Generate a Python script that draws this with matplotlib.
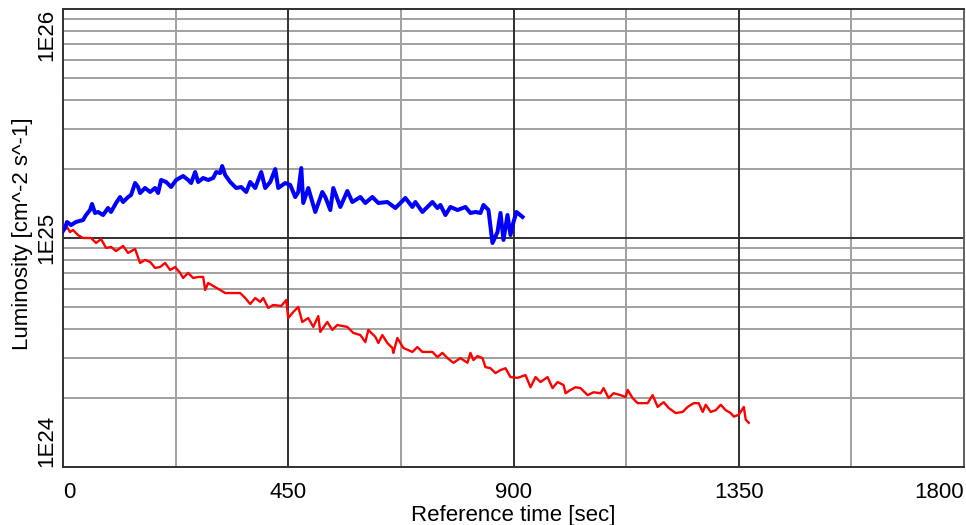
import numpy as np
import matplotlib.pyplot as plt
from matplotlib.ticker import FixedLocator, NullFormatter

plt.rcParams['font.family'] = ['Liberation Sans', 'DejaVu Sans']

# blue series: time [sec], luminosity [1e25 cm^-2 s^-1]
blue_t = [0, 4, 8, 16, 26, 40, 46, 54, 58, 64, 70, 80, 90, 96, 106, 114, 120,
          130, 136, 144, 150, 154, 164, 174, 184, 190, 196, 206, 216, 226, 240,
          250, 256, 264, 270, 280, 290, 300, 306, 314, 318, 324, 334, 346, 356,
          366, 374, 384, 390, 396, 404, 414, 424, 430, 444, 454, 464, 470, 476,
          480, 490, 504, 518, 524, 534, 540, 554, 568, 578, 594, 604, 618, 630,
          648, 664, 684, 698, 704, 718, 738, 748, 754, 764, 774, 788, 804, 814,
          824, 834, 840, 850, 858, 868, 874, 880, 888, 894, 900, 906, 918]
blue_lum = [1.073, 1.106, 1.175, 1.139, 1.175, 1.198, 1.260, 1.325, 1.408, 1.286,
            1.299, 1.260, 1.352, 1.299, 1.422, 1.510, 1.436, 1.510, 1.541, 1.738,
            1.670, 1.572, 1.653, 1.588, 1.653, 1.572, 1.792, 1.756, 1.670, 1.792,
            1.865, 1.792, 1.738, 1.941, 1.756, 1.828, 1.792, 1.828, 1.941, 1.922,
            2.062, 1.884, 1.756, 1.653, 1.670, 1.588, 1.756, 1.653, 1.792, 1.941,
            1.653, 1.756, 2.000, 1.653, 1.738, 1.704, 1.510, 1.588, 2.021, 1.422,
            1.653, 1.299, 1.588, 1.510, 1.325, 1.653, 1.366, 1.604, 1.436, 1.510,
            1.422, 1.510, 1.422, 1.436, 1.352, 1.495, 1.366, 1.436, 1.299, 1.436,
            1.352, 1.394, 1.260, 1.366, 1.325, 1.366, 1.286, 1.299, 1.286, 1.394,
            1.325, 0.951, 1.062, 1.286, 0.981, 1.260, 1.030, 1.175, 1.299, 1.236]

# red series
red_t = [0, 8, 14, 20, 30, 40, 56, 66, 76, 86, 96, 106, 120, 130, 144, 154, 164,
         174, 184, 194, 204, 214, 224, 234, 240, 250, 260, 270, 280, 284, 290,
         304, 314, 324, 354, 364, 374, 384, 394, 400, 410, 420, 436, 446, 450,
         460, 470, 478, 490, 500, 510, 514, 528, 538, 548, 568, 580, 594, 604,
         610, 624, 630, 638, 648, 658, 660, 668, 680, 698, 708, 718, 738, 748,
         758, 768, 780, 794, 808, 814, 820, 828, 838, 844, 854, 864, 874, 884,
         894, 908, 924, 934, 944, 954, 968, 978, 988, 1000, 1004, 1014, 1024,
         1034, 1048, 1060, 1074, 1080, 1090, 1100, 1114, 1124, 1128, 1138, 1148,
         1168, 1178, 1188, 1200, 1210, 1224, 1238, 1248, 1260, 1270, 1278, 1284,
         1294, 1304, 1314, 1324, 1334, 1340, 1350, 1360, 1364, 1370]
red_lum = [1.073, 1.117, 1.062, 1.083, 1.030, 1.000, 1.000, 0.951, 0.990, 0.905,
           0.914, 0.877, 0.923, 0.860, 0.896, 0.778, 0.802, 0.786, 0.740, 0.747,
           0.778, 0.725, 0.747, 0.704, 0.669, 0.704, 0.669, 0.676, 0.676, 0.593,
           0.636, 0.611, 0.593, 0.575, 0.575, 0.547, 0.515, 0.547, 0.526, 0.547,
           0.495, 0.510, 0.505, 0.536, 0.447, 0.475, 0.500, 0.430, 0.447, 0.409,
           0.456, 0.389, 0.430, 0.397, 0.417, 0.409, 0.385, 0.377, 0.351, 0.397,
           0.370, 0.348, 0.377, 0.348, 0.331, 0.315, 0.366, 0.331, 0.318, 0.334,
           0.318, 0.318, 0.302, 0.315, 0.299, 0.285, 0.299, 0.285, 0.315, 0.293,
           0.305, 0.299, 0.273, 0.270, 0.257, 0.265, 0.270, 0.247, 0.245, 0.252,
           0.223, 0.247, 0.235, 0.247, 0.221, 0.235, 0.228, 0.210, 0.217, 0.223,
           0.221, 0.206, 0.212, 0.210, 0.221, 0.200, 0.210, 0.206, 0.202, 0.217,
           0.200, 0.190, 0.190, 0.206, 0.183, 0.192, 0.181, 0.172, 0.174, 0.183,
           0.190, 0.190, 0.174, 0.187, 0.174, 0.177, 0.187, 0.177, 0.172, 0.166,
           0.169, 0.183, 0.161, 0.156]

x_ticks = [0, 450, 900, 1350, 1800]
y_ticks = [1e24, 1e25, 1e26]
y_ticklabels = ['1E24', '1E25', '1E26']

fig = plt.figure(figsize=(9.66, 5.25), dpi=100)
ax = fig.add_axes([63 / 966, 1 - 467 / 525, 901 / 966, 458 / 525])

# grid: light lines first, dark major lines on top
for t in np.arange(225, 1800, 450):
    ax.axvline(t, color='#a0a0a0', lw=1.4, zorder=1)
for t in x_ticks[1:-1]:
    ax.axvline(t, color='#303030', lw=1.4, zorder=1.1)
for dec in [1e24, 1e25]:
    for k in range(2, 10):
        ax.axhline(k * dec, color='#a0a0a0', lw=1.4, zorder=1)
ax.axhline(1e25, color='#303030', lw=1.4, zorder=1.1)

ax.plot(red_t, np.array(red_lum) * 1e25, color='#ff0000', lw=1.7,
        solid_joinstyle='round', zorder=3)
ax.plot(blue_t, np.array(blue_lum) * 1e25, color='#0000ff', lw=2.9,
        solid_joinstyle='round', zorder=4)

ax.set_yscale('log')
ax.set_xlim(0, 1800)
ax.set_ylim(1e24, 1e26)

ax.xaxis.set_major_locator(FixedLocator(x_ticks))
ax.set_xticklabels([str(v) for v in x_ticks])
ax.yaxis.set_major_locator(FixedLocator(y_ticks))
ax.yaxis.set_minor_locator(FixedLocator([]))
ax.yaxis.set_minor_formatter(NullFormatter())
ax.set_yticklabels(y_ticklabels, rotation=90, va='center')
ax.tick_params(axis='both', length=0, labelsize=16)
ax.tick_params(axis='x', pad=11)
ax.tick_params(axis='y', pad=4)

xl = ax.get_xticklabels()
xl[0].set_ha('left')
xl[-1].set_ha('right')
yl = ax.get_yticklabels()
yl[0].set_va('bottom')
yl[-1].set_va('top')

ax.set_xlabel('Reference time [sec]', fontsize=16, labelpad=1)
ax.set_ylabel('Luminosity [cm^-2 s^-1]', fontsize=16, labelpad=3)
ax.yaxis.set_label_coords(-0.033, 0.51)

for side in ['top', 'right', 'left', 'bottom']:
    ax.spines[side].set_color('#303030')
    ax.spines[side].set_linewidth(1.4)
ax.spines['right'].set_color('#606060')

fig.savefig('out.png', dpi=100)
